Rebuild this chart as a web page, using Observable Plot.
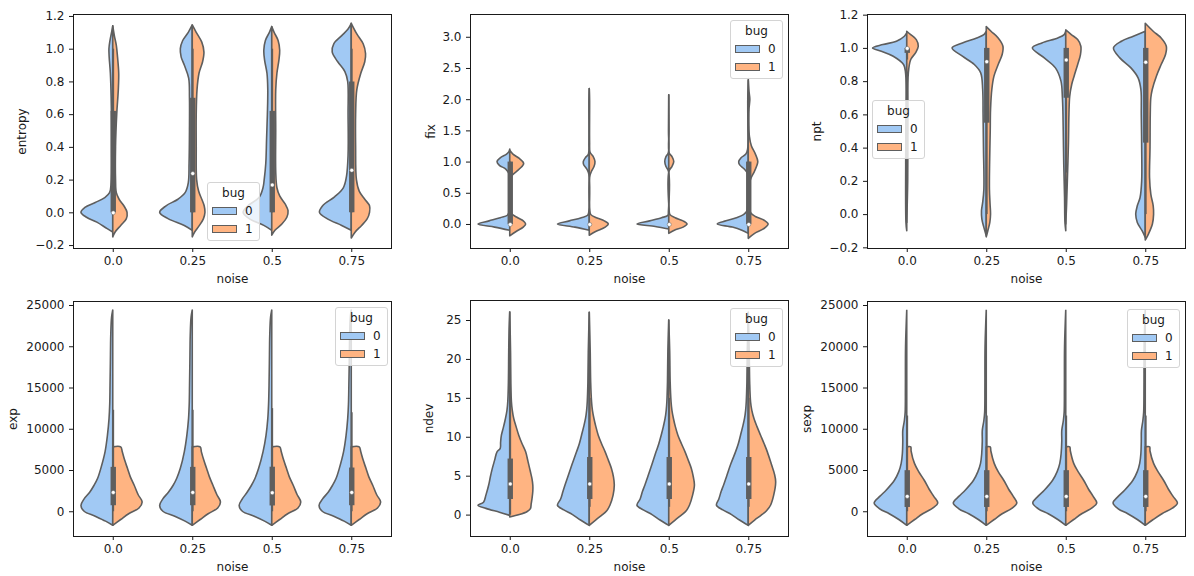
<!DOCTYPE html>
<html><head><meta charset="utf-8">
<script src="https://cdn.jsdelivr.net/npm/d3@7"></script>
<script src="https://cdn.jsdelivr.net/npm/@observablehq/plot@0.6"></script>
<style>
body{margin:0;background:#fff;}
#root{position:relative;width:1194px;height:576px;overflow:hidden;font-family:"DejaVu Sans",sans-serif;background:#fff;}
.panel{position:absolute;}
.legend{position:absolute;width:53px;height:59px;box-sizing:border-box;border:1px solid #d4d4d4;border-radius:3px;background:rgba(255,255,255,0.8);font-size:12px;color:#1a1a1a;font-family:"DejaVu Sans",sans-serif;}
.legend .t{position:absolute;left:0;right:0;top:3px;text-align:center;line-height:14px;}
.legend .p{position:absolute;left:4px;width:25px;height:8px;box-sizing:border-box;border:1px solid #5e5e5e;}
.legend .l{position:absolute;left:37px;line-height:14px;}
</style></head>
<body><div id="root"></div>
<script>
// ---- data ----
const noise = ["0.0", "0.25", "0.5", "0.75"];
const bugs = ["0", "1"];
const bugColors = ["#a1c9f4", "#ffb482"];

// violin half profiles per noise level: [value, half width in category units]
const entropyBug0 = [
 [[-0.12,0],[-0.1,0.07],[-0.06,0.2],[-0.03,0.33],[0.0,0.40],[0.03,0.35],[0.06,0.22],[0.09,0.1],[0.12,0.04],[0.18,0.02],[0.4,0.015],[0.7,0.02],[0.85,0.03],[0.95,0.045],[1.0,0.048],[1.05,0.035],[1.1,0.015],[1.14,0]],
 [[-0.11,0],[-0.08,0.1],[-0.04,0.3],[0.0,0.41],[0.04,0.33],[0.08,0.18],[0.12,0.09],[0.18,0.05],[0.3,0.04],[0.5,0.035],[0.7,0.035],[0.82,0.045],[0.9,0.1],[0.95,0.14],[1.0,0.15],[1.05,0.12],[1.1,0.05],[1.145,0]],
 [[-0.11,0],[-0.08,0.1],[-0.04,0.28],[0.0,0.36],[0.04,0.3],[0.09,0.16],[0.15,0.11],[0.2,0.095],[0.3,0.075],[0.45,0.065],[0.6,0.055],[0.75,0.05],[0.85,0.06],[0.93,0.09],[0.99,0.1],[1.05,0.08],[1.1,0.03],[1.135,0]],
 [[-0.11,0],[-0.08,0.12],[-0.04,0.3],[0.0,0.4],[0.04,0.36],[0.095,0.21],[0.15,0.1],[0.22,0.06],[0.35,0.04],[0.6,0.04],[0.8,0.045],[0.86,0.08],[0.92,0.17],[0.98,0.24],[1.03,0.22],[1.08,0.12],[1.12,0.04],[1.155,0]]
];
const entropyBug1 = [
 [[-0.15,0],[-0.12,0.03],[-0.08,0.1],[-0.04,0.17],[0.0,0.18],[0.04,0.14],[0.08,0.08],[0.12,0.045],[0.2,0.035],[0.4,0.035],[0.6,0.05],[0.75,0.07],[0.85,0.075],[0.95,0.06],[1.02,0.045],[1.08,0.02],[1.14,0]],
 [[-0.15,0],[-0.12,0.03],[-0.08,0.09],[-0.04,0.14],[0.0,0.16],[0.04,0.15],[0.08,0.12],[0.13,0.08],[0.2,0.055],[0.4,0.05],[0.6,0.05],[0.75,0.06],[0.85,0.085],[0.92,0.13],[0.98,0.147],[1.04,0.12],[1.1,0.05],[1.145,0]],
 [[-0.14,0],[-0.11,0.04],[-0.07,0.13],[-0.03,0.19],[0.01,0.205],[0.05,0.17],[0.1,0.1],[0.15,0.065],[0.25,0.05],[0.5,0.05],[0.75,0.05],[0.85,0.065],[0.93,0.09],[0.99,0.1],[1.05,0.08],[1.1,0.03],[1.135,0]],
 [[-0.157,0],[-0.12,0.05],[-0.08,0.13],[-0.04,0.2],[0.0,0.23],[0.04,0.23],[0.08,0.17],[0.13,0.1],[0.2,0.065],[0.4,0.055],[0.6,0.055],[0.75,0.07],[0.85,0.12],[0.92,0.17],[0.97,0.18],[1.03,0.15],[1.09,0.07],[1.155,0]]
];
// inner box per noise level: [q1, median, q3, whisker low, whisker high]
const entropyBox = [[0,0,0.62,0,1],[0,0.24,0.7,0,1],[0,0.17,0.62,0,1],[0,0.26,0.8,0,1]];
const entropyTicks = [-0.2,0,0.2,0.4,0.6,0.8,1.0,1.2];

const fixBug0 = [
 [[-0.1,0],[-0.05,0.19],[0.0,0.4],[0.05,0.26],[0.1,0.12],[0.14,0.03],[0.2,0.006],[0.5,0.005],[0.8,0.008],[0.88,0.05],[0.94,0.13],[1.0,0.16],[1.06,0.12],[1.12,0.04],[1.16,0.01],[1.2,0]],
 [[-0.1,0],[-0.05,0.18],[0.0,0.4],[0.05,0.25],[0.1,0.1],[0.14,0.02],[0.2,0.005],[0.8,0.005],[0.88,0.03],[0.95,0.07],[1.0,0.075],[1.06,0.05],[1.12,0.01],[1.3,0.004],[2.0,0.004],[2.17,0]],
 [[-0.08,0],[-0.04,0.17],[0.0,0.4],[0.05,0.24],[0.1,0.09],[0.14,0.01],[0.2,0.004],[0.85,0.004],[0.92,0.035],[1.0,0.05],[1.08,0.035],[1.14,0.005],[1.5,0.003],[2.07,0]],
 [[-0.15,0],[-0.1,0.08],[-0.05,0.2],[0.0,0.39],[0.05,0.28],[0.1,0.15],[0.15,0.06],[0.2,0.02],[0.3,0.006],[0.8,0.006],[0.88,0.05],[0.95,0.11],[1.0,0.12],[1.06,0.09],[1.12,0.03],[1.2,0.008],[1.6,0.005],[2.0,0.006],[2.3,0]]
];
const fixBug1 = [
 [[-0.19,0],[-0.12,0.08],[-0.05,0.17],[0.0,0.2],[0.05,0.17],[0.1,0.1],[0.17,0.02],[0.25,0.006],[0.7,0.006],[0.78,0.03],[0.88,0.12],[0.97,0.175],[1.05,0.12],[1.12,0.04],[1.18,0]],
 [[-0.18,0],[-0.12,0.08],[-0.05,0.2],[0.0,0.24],[0.05,0.19],[0.1,0.09],[0.15,0.02],[0.25,0.005],[0.75,0.005],[0.85,0.03],[0.92,0.06],[1.0,0.072],[1.08,0.05],[1.15,0.01],[1.3,0.004],[2.0,0.004],[2.17,0]],
 [[-0.15,0],[-0.1,0.07],[-0.05,0.18],[0.0,0.23],[0.05,0.18],[0.1,0.08],[0.15,0.015],[0.25,0.004],[0.85,0.004],[0.92,0.04],[1.0,0.063],[1.08,0.04],[1.14,0.005],[1.5,0.003],[2.07,0]],
 [[-0.23,0],[-0.15,0.08],[-0.08,0.19],[0.0,0.25],[0.06,0.2],[0.12,0.09],[0.18,0.03],[0.3,0.008],[0.6,0.008],[0.72,0.03],[0.85,0.08],[1.0,0.12],[1.12,0.09],[1.25,0.04],[1.4,0.015],[1.6,0.008],[1.85,0.01],[2.0,0.02],[2.12,0.01],[2.33,0]]
];
const fixBox = [[0,0,1,0,1],[0,0,0,0,0],[0,0,0,0,0],[0,0,1,0,1]];
const fixTicks = [0,0.5,1,1.5,2,2.5,3];

const nptBug0 = [
 [[-0.1,0],[-0.05,0.01],[0.5,0.012],[0.85,0.015],[0.9,0.04],[0.95,0.17],[0.98,0.32],[1.0,0.43],[1.02,0.3],[1.04,0.13],[1.07,0.03],[1.09,0]],
 [[-0.13,0],[-0.08,0.03],[-0.03,0.055],[0.02,0.06],[0.07,0.045],[0.15,0.03],[0.4,0.035],[0.6,0.04],[0.75,0.045],[0.85,0.07],[0.9,0.15],[0.95,0.3],[1.0,0.43],[1.03,0.3],[1.06,0.12],[1.08,0.03],[1.1,0]],
 [[-0.1,0],[-0.05,0.01],[0.1,0.015],[0.3,0.025],[0.45,0.03],[0.6,0.035],[0.7,0.042],[0.8,0.06],[0.88,0.13],[0.94,0.27],[1.0,0.42],[1.03,0.3],[1.06,0.1],[1.08,0.02],[1.1,0]],
 [[-0.14,0],[-0.1,0.04],[-0.05,0.1],[0.0,0.12],[0.05,0.1],[0.1,0.065],[0.2,0.045],[0.4,0.045],[0.6,0.05],[0.75,0.055],[0.82,0.09],[0.88,0.18],[0.94,0.32],[1.0,0.4],[1.04,0.3],[1.07,0.15],[1.1,0]]
];
const nptBug1 = [
 [[-0.05,0],[0.2,0.012],[0.6,0.015],[0.85,0.02],[0.93,0.05],[0.97,0.11],[1.01,0.145],[1.05,0.12],[1.08,0.05],[1.1,0]],
 [[-0.137,0],[-0.1,0.02],[-0.05,0.045],[0.0,0.054],[0.06,0.048],[0.15,0.04],[0.3,0.042],[0.5,0.05],[0.63,0.054],[0.75,0.07],[0.83,0.097],[0.9,0.15],[0.96,0.2],[1.01,0.21],[1.06,0.15],[1.1,0.06],[1.128,0]],
 [[-0.06,0],[0.05,0.01],[0.2,0.02],[0.43,0.034],[0.6,0.04],[0.71,0.05],[0.78,0.075],[0.83,0.105],[0.9,0.15],[0.96,0.185],[1.01,0.19],[1.05,0.15],[1.08,0.07],[1.108,0]],
 [[-0.156,0],[-0.12,0.04],[-0.06,0.09],[0.0,0.105],[0.05,0.1],[0.12,0.07],[0.22,0.054],[0.4,0.06],[0.6,0.063],[0.7,0.07],[0.75,0.088],[0.83,0.14],[0.9,0.2],[0.96,0.255],[1.01,0.265],[1.06,0.2],[1.1,0.1],[1.148,0]]
];
const nptBox = [[0.97,1.0,1.0,0.93,1.0],[0.55,0.92,1.0,0.0,1.0],[0.7,0.93,1.0,0.25,1.0],[0.43,0.917,1.0,0.0,1.0]];
const nptTicks = [-0.2,0,0.2,0.4,0.6,0.8,1.0,1.2];

const expBug0 = [
 [[-1700,0],[-1200,0.09],[-600,0.22],[0,0.36],[700,0.4],[1500,0.36],[2300,0.29],[3150,0.235],[4000,0.19],[5200,0.15],[7200,0.097],[9200,0.067],[11200,0.047],[13000,0.038],[15300,0.034],[18000,0.03],[21400,0.025],[23500,0.015],[24400,0]],
 [[-1700,0],[-1200,0.09],[-600,0.22],[0,0.37],[700,0.41],[1500,0.37],[2300,0.3],[3150,0.24],[4000,0.195],[5200,0.15],[7200,0.1],[9200,0.068],[11200,0.047],[13000,0.038],[15300,0.034],[18000,0.03],[21400,0.025],[23500,0.015],[24400,0]],
 [[-1700,0],[-1200,0.09],[-600,0.22],[0,0.37],[700,0.41],[1500,0.37],[2300,0.31],[3150,0.255],[4000,0.21],[5200,0.165],[7200,0.11],[9200,0.072],[11200,0.05],[13000,0.04],[15300,0.034],[18000,0.03],[21400,0.025],[23500,0.015],[24400,0]],
 [[-1700,0],[-1200,0.09],[-600,0.22],[0,0.365],[700,0.405],[1500,0.36],[2300,0.29],[3150,0.235],[4000,0.19],[5200,0.15],[7200,0.097],[9200,0.065],[11200,0.045],[13000,0.035],[15300,0.03],[18000,0.025],[21400,0.02],[23500,0.012],[24400,0]]
];
const expBug1 = [
 [[-1700,0],[-1000,0.1],[-300,0.2],[400,0.33],[1130,0.37],[2000,0.32],[3150,0.27],[4200,0.22],[5200,0.185],[6200,0.15],[7200,0.12],[7800,0.1],[7800,0]],
 [[-1700,0],[-1000,0.1],[-300,0.2],[400,0.32],[1130,0.355],[2000,0.31],[3150,0.26],[4200,0.215],[5200,0.18],[6200,0.145],[7200,0.115],[7800,0.1],[7800,0]],
 [[-1700,0],[-1000,0.1],[-300,0.2],[400,0.33],[1130,0.365],[2000,0.32],[3150,0.27],[4200,0.22],[5200,0.185],[6200,0.15],[7200,0.12],[7800,0.1],[7800,0]],
 [[-1700,0],[-1000,0.1],[-300,0.2],[400,0.33],[1130,0.37],[2000,0.32],[3150,0.27],[4200,0.22],[5200,0.185],[6200,0.15],[7200,0.12],[7800,0.1],[7800,0]]
];
const expBox = [[730,2340,5380,0,12300],[730,2340,5380,0,12300],[700,2300,5400,0,12500],[730,2340,5300,0,12000]];
const expTicks = [0,5000,10000,15000,20000,25000];

const ndevBug0 = [
 [[-0.1,0],[0.3,0.13],[0.8,0.3],[1.2,0.4],[1.6,0.33],[2.5,0.3],[3.8,0.265],[4.8,0.245],[5.9,0.22],[7.0,0.19],[8.06,0.16],[8.5,0.12],[9.3,0.115],[10.2,0.105],[11.2,0.08],[12.35,0.054],[13.4,0.035],[14.5,0.025],[17,0.017],[20.9,0.013],[24,0.008],[26.1,0]],
 [[-1.38,0],[-0.7,0.11],[0.0,0.21],[0.6,0.32],[1.2,0.4],[2.0,0.36],[3.0,0.33],[3.8,0.305],[5.0,0.265],[6.5,0.215],[8.06,0.16],[9.1,0.125],[10.2,0.097],[11.3,0.07],[12.35,0.047],[13.4,0.033],[14.5,0.025],[17,0.017],[21,0.012],[26,0]],
 [[-1.38,0],[-0.7,0.11],[0.0,0.21],[0.6,0.32],[1.2,0.4],[2.0,0.36],[3.0,0.33],[3.8,0.3],[5.0,0.26],[6.5,0.21],[8.06,0.16],[9.1,0.125],[10.2,0.095],[11.3,0.068],[12.35,0.046],[13.4,0.032],[14.5,0.024],[17,0.016],[21,0.011],[25,0]],
 [[-1.38,0],[-0.7,0.11],[0.0,0.21],[0.6,0.32],[1.2,0.4],[2.0,0.37],[3.0,0.34],[3.8,0.31],[5.0,0.27],[6.5,0.22],[8.06,0.16],[9.1,0.125],[10.2,0.097],[11.3,0.07],[12.35,0.047],[13.4,0.033],[14.5,0.025],[17,0.017],[21,0.012],[26,0]]
];
const ndevBug1 = [
 [[-0.3,0],[0.0,0.12],[0.4,0.22],[0.77,0.26],[1.4,0.27],[2.06,0.28],[3.0,0.29],[3.8,0.29],[4.6,0.28],[5.5,0.26],[6.8,0.23],[8.06,0.2],[9.1,0.155],[10.2,0.113],[11.3,0.08],[12.35,0.05],[13.4,0.032],[14.5,0.021],[17,0.014],[21,0.01],[26,0]],
 [[-1.38,0],[-0.7,0.08],[-0.1,0.155],[0.5,0.22],[1.2,0.26],[2.5,0.3],[3.8,0.315],[4.8,0.305],[5.9,0.28],[7.0,0.24],[8.06,0.2],[9.1,0.155],[10.2,0.113],[11.3,0.083],[12.35,0.059],[13.4,0.04],[14.5,0.029],[17,0.018],[21,0.012],[26,0]],
 [[-1.38,0],[-0.7,0.08],[-0.1,0.155],[0.5,0.22],[1.2,0.26],[2.5,0.3],[3.8,0.323],[4.8,0.31],[5.9,0.285],[7.0,0.245],[8.06,0.205],[9.1,0.16],[10.2,0.115],[11.3,0.083],[12.35,0.059],[13.4,0.04],[14.5,0.029],[17,0.018],[21,0.012],[25,0]],
 [[-1.38,0],[-0.7,0.08],[-0.1,0.16],[0.5,0.23],[1.2,0.28],[2.5,0.32],[4.2,0.345],[5.2,0.33],[6.5,0.29],[8.06,0.24],[9.1,0.2],[10.2,0.155],[11.3,0.11],[12.35,0.072],[13.4,0.045],[14.5,0.029],[17,0.018],[21,0.012],[26,0]]
];
const ndevBox = [[2,4,7.2,0,15],[2,4,7.4,1,15],[2,4,7.4,1,15],[2,4,7.4,1,15]];
const ndevTicks = [0,5,10,15,20,25];

const sexpBug0 = [
 [[-1700,0],[-1000,0.1],[-300,0.22],[300,0.34],[1000,0.41],[1800,0.34],[2550,0.26],[3760,0.155],[4800,0.1],[5800,0.07],[7000,0.055],[8500,0.05],[9800,0.05],[11000,0.03],[12000,0.02],[15000,0.017],[20000,0.015],[24400,0]],
 [[-1700,0],[-1000,0.1],[-300,0.22],[300,0.345],[1000,0.415],[1800,0.345],[2550,0.265],[3760,0.16],[4800,0.105],[5800,0.072],[7000,0.057],[8500,0.05],[9800,0.05],[11000,0.03],[12000,0.02],[15000,0.017],[20000,0.015],[24400,0]],
 [[-1700,0],[-1000,0.1],[-300,0.22],[300,0.345],[1000,0.415],[1800,0.35],[2550,0.27],[3760,0.165],[4800,0.108],[5800,0.075],[7000,0.058],[8500,0.05],[9800,0.05],[11000,0.03],[12000,0.02],[15000,0.017],[20000,0.015],[24400,0]],
 [[-1700,0],[-1000,0.1],[-300,0.22],[300,0.34],[1000,0.405],[1800,0.34],[2550,0.26],[3760,0.155],[4800,0.1],[5800,0.07],[7000,0.055],[8500,0.05],[9800,0.048],[11000,0.03],[12000,0.02],[15000,0.016],[20000,0.014],[24400,0]]
];
const sexpBug1 = [
 [[-1700,0],[-1000,0.1],[-300,0.2],[400,0.33],[1000,0.39],[1800,0.34],[2700,0.28],[3760,0.22],[4800,0.15],[5800,0.097],[7300,0.055],[7800,0.05],[7800,0]],
 [[-1700,0],[-1000,0.1],[-300,0.2],[400,0.33],[1000,0.385],[1800,0.34],[2700,0.28],[3760,0.22],[4800,0.15],[5800,0.1],[7300,0.058],[7800,0.05],[7800,0]],
 [[-1700,0],[-1000,0.1],[-300,0.2],[400,0.33],[1000,0.39],[1800,0.345],[2700,0.285],[3760,0.225],[4800,0.155],[5800,0.1],[7300,0.058],[7800,0.05],[7800,0]],
 [[-1700,0],[-1000,0.1],[-300,0.21],[400,0.345],[1000,0.405],[1800,0.35],[2700,0.29],[3760,0.23],[4800,0.16],[5800,0.105],[7300,0.06],[7800,0.055],[7800,0]]
];
const sexpBox = [[520,1860,4980,0,11600],[520,1860,4980,0,11600],[520,1860,4980,0,11600],[520,1860,4980,0,11600]];
const sexpTicks = [0,5000,10000,15000,20000,25000];

// ---- layout ----
const gray = "#5e5e5e";
const panels = [
  {name:"entropy", b0:entropyBug0, b1:entropyBug1, box:entropyBox, ticks:entropyTicks, fmt:".1f", domain:[-0.218,1.212], left:0, top:0, mt:14, lo:56, legend:[207,182]},
  {name:"fix", b0:fixBug0, b1:fixBug1, box:fixBox, ticks:fixTicks, fmt:".1f", domain:[-0.385,3.365], left:397, top:0, mt:14, lo:44.5, legend:[730,20]},
  {name:"npt", b0:nptBug0, b1:nptBug1, box:nptBox, ticks:nptTicks, fmt:".1f", domain:[-0.204,1.204], left:794, top:0, mt:14, lo:55, legend:[872,100]},
  {name:"exp", b0:expBug0, b1:expBug1, box:expBox, ticks:expTicks, fmt:"d", domain:[-3000,25485], left:0, top:285, mt:16, lo:65, legend:[335,307]},
  {name:"ndev", b0:ndevBug0, b1:ndevBug1, box:ndevBox, ticks:ndevTicks, fmt:"d", domain:[-2.75,27.57], left:397, top:285, mt:15, lo:46, legend:[730,308]},
  {name:"sexp", b0:sexpBug0, b1:sexpBug1, box:sexpBox, ticks:sexpTicks, fmt:"d", domain:[-3000,25485], left:794, top:285, mt:16, lo:65, legend:[1127,309]}
];

function violinRows(b0, b1) {
  const out = [];
  [b0, b1].forEach((side, b) => side.forEach((prof, i) => prof.forEach(([v, w]) => {
    out.push({i, bug: bugs[b], v, w, key: i + "-" + b});
  })));
  return out;
}

const root = document.getElementById("root");
for (const p of panels) {
  const rows = violinRows(p.b0, p.b1);
  const boxRows = p.box.map(([q1, med, q3, lo, hi], i) => ({i, q1, med, q3, lo, hi}));
  const chart = Plot.plot({
    width: 397,
    height: 291,
    marginLeft: 73,
    marginRight: 6,
    marginTop: p.mt,
    marginBottom: p.top === 0 ? 43 : 40,
    style: {fontFamily: "DejaVu Sans, sans-serif", fontSize: "12px", color: "#1a1a1a", background: "transparent"},
    x: {domain: [-0.5, 3.5], ticks: [0, 1, 2, 3], tickFormat: i => noise[i], label: "noise", labelAnchor: "center", labelOffset: 34, labelArrow: "none", tickSize: 4, tickPadding: 4},
    y: {domain: p.domain, ticks: p.ticks, tickFormat: d3.format(p.fmt), label: p.name, labelAnchor: "center", labelOffset: p.lo, labelArrow: "none", tickSize: 4, tickPadding: 5},
    color: {domain: bugs, range: bugColors},
    marks: [
      Plot.areaX(rows, {
        y: "v",
        x1: d => d.bug === "0" ? d.i - d.w : d.i,
        x2: d => d.bug === "0" ? d.i : d.i + d.w,
        z: "key", fill: "bug", stroke: gray, strokeWidth: 1.6, strokeLinejoin: "round",
        curve: "catmull-rom"
      }),
      Plot.ruleX(boxRows, {x: "i", y1: "lo", y2: "hi", stroke: gray, strokeWidth: 1.8}),
      Plot.ruleX(boxRows.filter(d => d.q3 > d.q1), {x: "i", y1: "q1", y2: "q3", stroke: gray, strokeWidth: 5.4}),
      Plot.dot(boxRows, {x: "i", y: "med", r: 2, fill: "white", stroke: gray, strokeWidth: 0.5}),
      Plot.frame({stroke: "#1a1a1a", strokeWidth: 1})
    ]
  });
  chart.classList.add("panel");
  chart.style.left = p.left + "px";
  chart.style.top = p.top + "px";
  root.appendChild(chart);

  const lg = document.createElement("div");
  lg.className = "legend";
  lg.style.left = p.legend[0] + "px";
  lg.style.top = p.legend[1] + "px";
  let html = '<div class="t">bug</div>';
  bugs.forEach((b, k) => {
    const cy = 28 + k * 17.5;
    html += `<div class="p" style="top:${cy - 4}px;background:${bugColors[k]}"></div>`;
    html += `<div class="l" style="top:${cy - 7}px">${b}</div>`;
  });
  lg.innerHTML = html;
  root.appendChild(lg);
}
</script>
</body></html>
